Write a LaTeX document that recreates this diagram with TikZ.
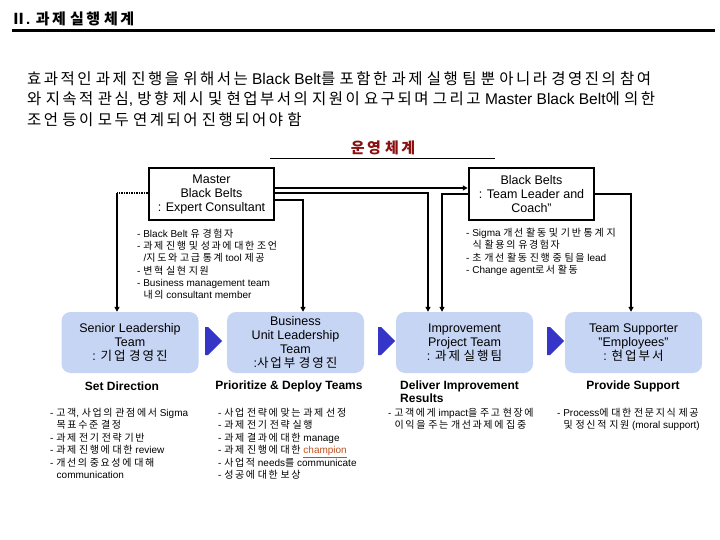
\documentclass[tikz,border=0pt]{standalone}
\usepackage{fontspec}
\setmainfont{Liberation Sans}
\newfontfamily\krfont[LetterSpace=16]{Noto Sans CJK KR}
\usetikzlibrary{arrows.meta}
% Hangul goes to the Korean font
\newXeTeXintercharclass\krclass
\count255="AC00
\loop
  \XeTeXcharclass\count255=\krclass
  \ifnum\count255<"D7A3 \advance\count255 by 1
\repeat
\XeTeXcharclass"2161=\krclass
\XeTeXinterchartoks 0 \krclass = {\krfont}
\XeTeXinterchartoks 4095 \krclass = {\krfont}
\XeTeXinterchartoks \krclass 0 = {\rmfamily}
\XeTeXinterchartoks \krclass 4095 = {\rmfamily}
\XeTeXinterchartokenstate=1
\definecolor{teamblue}{HTML}{C6D5F3}
\definecolor{flowblue}{HTML}{3535C8}
\definecolor{titlered}{HTML}{8B1010}
\definecolor{champ}{HTML}{C0501E}
\newcommand{\ind}{\hspace*{6.5pt}}
\begin{document}
\begin{tikzpicture}[x=1pt,y=-1pt,
		belt/.style={draw, line width=2.5pt, minimum width=125pt, minimum height=52pt, align=center, inner sep=0pt, font=\fontsize{12.5}{14}\selectfont},
		team/.style={fill=teamblue, rounded corners=9pt, minimum width=137pt, minimum height=61pt, align=center, inner sep=0pt, font=\fontsize{12.5}{14}\selectfont},
		role/.style={font=\bfseries\fontsize{12}{13}\selectfont, inner sep=0pt},
		duty/.style={anchor=north west, align=left, inner sep=0pt, font=\fontsize{10}{12.4}\selectfont},
		link/.style={-{Triangle[width=5pt,length=5pt]}},
		flow/.style={fill=flowblue}]

	\useasboundingbox (0,0) rectangle (720,540);

	% ===== 제목 =====
	\node[anchor=west, inner sep=0pt, font=\bfseries\fontsize{15}{18}\selectfont] (title) at (11,19) {Ⅱ. 과제 실행 체계};
	\draw[line width=3pt] (12,31) -- (715,31);

	\node[anchor=north west, align=left, inner sep=0pt, font=\fontsize{15.5}{20.5}\selectfont] (intro) at (27,71)
		{효과적인 과제 진행을 위해서는 Black Belt를 포함한 과제 실행 팀 뿐 아니라 경영진의 참여\\
		 와 지속적 관심, 방향 제시 및 현업부서의 지원이 요구되며 그리고 Master Black Belt에 의한\\
		 조언 등이 모두 연계되어 진행되어야 함};

	\node[font=\bfseries\fontsize{15}{17}\selectfont, text=titlered, inner sep=0pt] (ops) at (383,148) {운영 체계};
	\draw[line width=0.8pt] (270,158) -- (495,158);

	% ===== Belts =====
	\node[belt] (mbb) at (211.5,194) {Master\\Black Belts\\: Expert Consultant};
	\node[belt] (bb) at (531.5,194) {Black Belts\\: Team Leader and\\Coach"};

	\node[duty, font=\fontsize{10}{12.2}\selectfont] (mbbduty) at (137,229)
		{- Black Belt 유 경험자\\
		 - 과제 진행 및 성과에 대한 조언\\
		 \ind/지도와 고급 통계 tool 제공\\
		 - 변혁 실현 지원\\
		 - Business management team\\
		 \ind 내의 consultant member};
	\node[duty, font=\fontsize{10}{12.3}\selectfont] (bbduty) at (466,228)
		{- Sigma 개선 활동 및 기반 통계 지\\
		 \ind 식 활용의 유경험자\\
		 - 초 개선 활동 진행 중 팀을 lead\\
		 - Change agent로서 활동};

	% ===== Teams =====
	\node[team] (slt) at (130,342.5) {Senior Leadership\\Team\\: 기업 경영진};
	\node[team] (bul) at (295.5,342.5) {Business\\Unit Leadership\\Team\\:사업부 경영진};
	\node[team] (ipt) at (464.5,342.5) {Improvement\\Project Team\\: 과제 실행팀};
	\node[team] (tsp) at (633.5,342.5) {Team Supporter\\"Employees"\\: 현업부서};

	\foreach \x in {205,378,547}
		\fill[flow] (\x,327) -- (\x+3,327) -- (\x+17,341) -- (\x+3,355) -- (\x,355) -- cycle;

	\node[role] (dir) at (122,386) {Set Direction};
	\node[role] (dep) at (289,386) {Prioritize \& Deploy Teams};
	\node[role, anchor=north west, align=left] (dlv) at (400,381) {Deliver Improvement\\Results};
	\node[role] (sup) at (633,386) {Provide Support};

	\node[duty] (dirduty) at (50,408)
		{- 고객, 사업의 관점에서 Sigma\\
		 \ind 목표수준 결정\\
		 - 과제 전기 전략 기반\\
		 - 과제 진행에 대한 review\\
		 - 개선의 중요성에 대해\\
		 \ind communication};
	\node[duty] (depduty) at (218,408)
		{- 사업 전략에 맞는 과제 선정\\
		 - 과제 전기 전략 실행\\
		 - 과제 결과에 대한 manage\\
		 - 과제 진행에 대한 \textcolor{champ}{\underline{champion}}\\
		 - 사업적 needs를 communicate\\
		 - 성공에 대한 보상};
	\node[duty] (dlvduty) at (388,408)
		{- 고객에게 impact을 주고 현장에\\
		 \ind 이익을 주는 개선과제에 집중};
	\node[duty] (supduty) at (557,408)
		{- Process에 대한 전문지식 제공\\
		 \ind 및 정신적 지원 (moral support)};

	% ===== 연결 =====
	\draw[link, line width=2pt] ([yshift=6pt]mbb.east) -- ([yshift=6pt]bb.west);
	\draw[link, line width=2pt] ([yshift=1pt]mbb.east) -| ([xshift=-36.5pt]ipt.north);
	\draw[link, line width=1.2pt] ([yshift=-6pt]mbb.east) -| ([xshift=7.5pt]bul.north);
	\draw[link, line width=2pt] (bb.west) -| ([xshift=-22.5pt]ipt.north);
	\draw[link, line width=1.2pt] (bb.east) -| ([xshift=-2.5pt]tsp.north);
	\coordinate (mw) at ([yshift=1pt]mbb.west);
	\coordinate (sn) at ([xshift=-13pt]slt.north);
	\draw[line width=1.5pt, densely dotted] (mw) -- (mw -| sn);
	\draw[link, line width=1.5pt] (mw -| sn) -- (sn);
\end{tikzpicture}
\end{document}
